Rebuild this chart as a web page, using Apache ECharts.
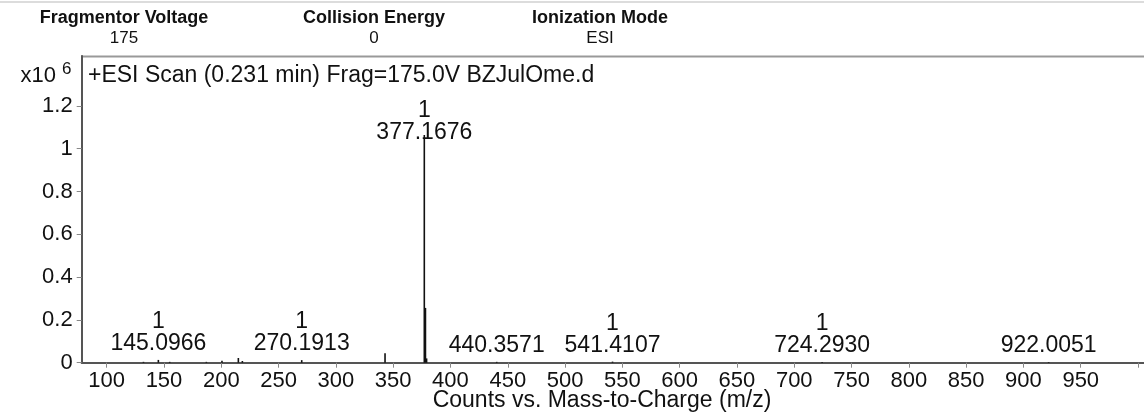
<!DOCTYPE html>
<html>
<head>
<meta charset="utf-8">
<script src="https://cdn.jsdelivr.net/npm/echarts@6/dist/echarts.min.js"></script>
<style>
  html, body { margin: 0; padding: 0; background: #fff; }
  #chart { width: 1144px; height: 412px; }
</style>
</head>
<body>
<div id="chart"></div>
<script>
// peaks, m/z and counts (x10^6)
const peakMz = [132.1, 145.0966, 155.0, 187.0, 200.6, 214.9, 218.4, 270.1913, 342.9,
  377.1676, 378.17, 379.17, 440.3571, 541.4107, 724.2930, 922.0051];
const peakCounts = [0.004, 0.013, 0.004, 0.004, 0.009, 0.022, 0.008, 0.012, 0.044,
  1.064, 0.256, 0.02, 0.004, 0.005, 0.003, 0.003];

// annotated peaks: m/z label and charge
const labelMz = [145.0966, 270.1913, 377.1676, 440.3571, 541.4107, 724.2930, 922.0051];
const labelCharge = ['1', '1', '1', '', '1', '1', ''];

const xTickValues = [100, 150, 200, 250, 300, 350, 400, 450, 500, 550, 600, 650,
  700, 750, 800, 850, 900, 950, 1000];
const xLabelValues = [100, 150, 200, 250, 300, 350, 400, 450, 500, 550, 600, 650,
  700, 750, 800, 850, 900, 950];
const yTickValues = [0, 0.2, 0.4, 0.6, 0.8, 1, 1.2];

const headers = ['Fragmentor Voltage', 'Collision Energy', 'Ionization Mode'];
const headerValues = ['175', '0', 'ESI'];
const headerX = [124, 374, 600];

const font = 'Liberation Sans, Arial, sans-serif';

const chart = echarts.init(document.getElementById('chart'));

const peakData = peakMz.map((mz, i) => {
  const k = labelMz.indexOf(mz);
  const item = { value: [mz, peakCounts[i]] };
  if (k >= 0) {
    const big = peakCounts[i] > 0.5;
    item.label = {
      show: true,
      position: 'top',
      distance: big ? -9 : 5,
      formatter: labelCharge[k] ? labelCharge[k] + '\n' + mz.toFixed(4) : mz.toFixed(4)
    };
  }
  return item;
});

const graphics = [
  { type: 'line', shape: { x1: 0, y1: 2, x2: 1144, y2: 2 }, style: { stroke: '#d0d0d0', lineWidth: 1.5 } },
  { type: 'line', shape: { x1: 81, y1: 56.5, x2: 1144, y2: 56.5 }, style: { stroke: '#999', lineWidth: 2 } },
  { type: 'text', x: 56, y: 76, style: { text: 'x10', font: '22px ' + font, fill: '#111', align: 'right', verticalAlign: 'middle' } },
  { type: 'text', x: 62, y: 69, style: { text: '6', font: '17px ' + font, fill: '#111', align: 'left', verticalAlign: 'middle' } },
  { type: 'text', x: 88, y: 76, style: { text: '+ESI Scan (0.231 min) Frag=175.0V BZJulOme.d', font: '23px ' + font, fill: '#111', verticalAlign: 'middle' } },
  { type: 'text', x: 602, y: 401, style: { text: 'Counts vs. Mass-to-Charge (m/z)', font: '23px ' + font, fill: '#111', align: 'center', verticalAlign: 'middle' } }
];
headers.forEach((h, i) => {
  graphics.push({ type: 'text', x: headerX[i], y: 18, style: { text: h, font: 'bold 18px ' + font, fill: '#111', align: 'center', verticalAlign: 'middle' } });
  graphics.push({ type: 'text', x: headerX[i], y: 38, style: { text: headerValues[i], font: '17px ' + font, fill: '#111', align: 'center', verticalAlign: 'middle' } });
});

const option = {
  animation: false,
  backgroundColor: '#fff',
  grid: { left: 81.7, right: 0, top: 56, bottom: 49.3 },
  xAxis: {
    type: 'value',
    min: 78.2,
    max: 1005.2,
    splitLine: { show: false },
    axisLine: { lineStyle: { color: '#555', width: 2 } },
    axisTick: { customValues: xTickValues, length: 5, lineStyle: { color: '#888' } },
    axisLabel: { customValues: xLabelValues, color: '#111', fontSize: 22, fontFamily: font, margin: 7 }
  },
  yAxis: {
    type: 'value',
    min: 0,
    max: 1.433,
    splitLine: { show: false },
    axisLine: { show: true, lineStyle: { color: '#555', width: 2 } },
    axisTick: { show: true, customValues: yTickValues, length: 5, lineStyle: { color: '#888' } },
    axisLabel: {
      customValues: yTickValues, color: '#111', fontSize: 22, fontFamily: font, margin: 9,
      formatter: v => String(+v.toFixed(1))
    }
  },
  graphic: graphics,
  series: [{
    type: 'bar',
    barWidth: 1.6,
    itemStyle: { color: '#111' },
    label: { color: '#111', fontSize: 23, fontFamily: font, lineHeight: 22, align: 'center' },
    data: peakData
  }]
};

chart.setOption(option);
</script>
</body>
</html>
